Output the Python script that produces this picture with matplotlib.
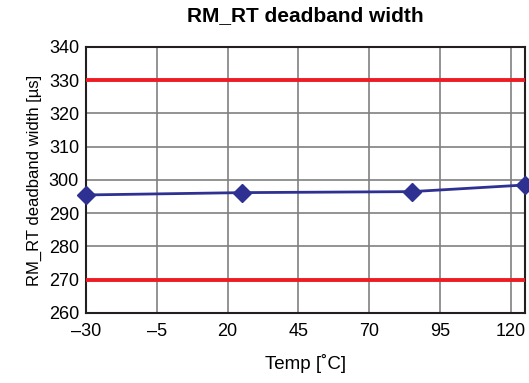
import matplotlib.pyplot as plt

temps = [-30, 25, 85, 125]
width_us = [295.5, 296.2, 296.5, 298.5]
limit_low = 270
limit_high = 330
xticks = [-30, -5, 20, 45, 70, 95, 120]
yticks = [260, 270, 280, 290, 300, 310, 320, 330, 340]

plt.rcParams['font.family'] = ['Liberation Sans', 'DejaVu Sans']

fig = plt.figure(figsize=(5.29, 3.83), dpi=100)
ax = fig.add_axes([0.1626, 0.1828, 0.8298, 0.6945])

ax.axhline(limit_low, color='#ED1C24', lw=2.8, zorder=3)
ax.axhline(limit_high, color='#ED1C24', lw=2.8, zorder=3)
ax.plot(temps, width_us, color='#2E3192', lw=2, marker='D', markersize=9,
        clip_on=False, zorder=4)

ax.set_xlim(-30, 125)
ax.set_ylim(260, 340)
ax.set_xticks(xticks)
ax.set_xticklabels([str(t).replace('-', '\u2013') for t in xticks])
ax.set_yticks(yticks)
ax.grid(True, color='#808080', lw=1.2)
ax.tick_params(length=0, labelsize=13, pad=5)
ax.tick_params(axis='x', pad=7)
for s in ax.spines.values():
    s.set_linewidth(1.5)
    s.set_color('#231F20')

ax.set_xlabel('Temp [˚C]', fontsize=13.5, labelpad=10)
ax.set_ylabel('RM_RT deadband width [µs]', fontsize=12, labelpad=5)
fig.suptitle('RM_RT deadband width', fontsize=15, fontweight='bold', x=0.578, y=0.985)

fig.savefig('out.png', dpi=100)
